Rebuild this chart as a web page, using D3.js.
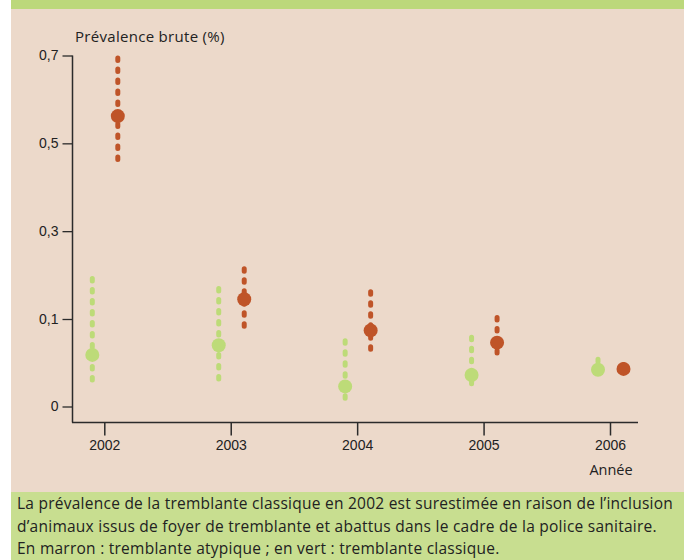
<!DOCTYPE html>
<html lang="fr">
<head>
<meta charset="utf-8">
<script src="https://cdn.jsdelivr.net/npm/d3@7"></script>
<style>
  html, body { margin: 0; padding: 0; background: #ffffff; }
  svg { display: block; font-family: "Open Sans", Lato, sans-serif; }
</style>
</head>
<body>
<svg id="chart" width="684" height="560"></svg>
<script>
// Prévalence brute (%) de la tremblante, par année, avec intervalle de confiance
const years = ["2002", "2003", "2004", "2005", "2006"];
const series = ["classique", "atypique"];

// tremblante classique (vert)
const classiqueVal  = [0.059, 0.070, 0.023, 0.036, 0.042];
const classiqueLow  = [0.023, 0.027, 0.004, 0.020, 0.030];
const classiqueHigh = [0.198, 0.175, 0.078, 0.082, 0.057];

// tremblante atypique (marron)
const atypiqueVal  = [0.562, 0.145, 0.087, 0.073, 0.043];
const atypiqueLow  = [0.448, 0.086, 0.060, 0.055, 0.033];
const atypiqueHigh = [0.700, 0.220, 0.168, 0.109, 0.051];

const yTicks = [0, 0.1, 0.3, 0.5, 0.7];
const yTickLabels = ["0", "0,1", "0,3", "0,5", "0,7"];

const caption = [
  "La prévalence de la tremblante classique en 2002 est surestimée en raison de l\u2019inclusion",
  "d\u2019animaux issus de foyer de tremblante et abattus dans le cadre de la police sanitaire.",
  "En marron : tremblante atypique ; en vert : tremblante classique."
];

const colors = { classique: "#bddb78", atypique: "#bf5428" };

const svg = d3.select("#chart");

// panneau : bandeau vert, fond beige, encadré de légende
svg.append("rect").attr("x", 11).attr("y", 0).attr("width", 673).attr("height", 9).attr("fill", "#bcd87b");
svg.append("rect").attr("x", 11).attr("y", 9).attr("width", 673).attr("height", 483).attr("fill", "#ecd9ca");
svg.append("rect").attr("x", 11).attr("y", 492).attr("width", 673).attr("height", 68).attr("fill", "#c8de90");

// échelles : l'axe vertical est dilaté entre 0 et 0,1
const x = d3.scalePoint().domain(years).range([104.3, 610]);
const dx = d3.scalePoint().domain(series).range([-12, 13.5]);
const y = d3.scaleLinear().domain([0, 0.1, 0.7]).range([406.5, 319, 55.5]);

const axisColor = "#2b2b2b";

// axe vertical
const yAxis = svg.append("g").attr("transform", "translate(72.5,0)")
  .call(d3.axisLeft(y).tickValues(yTicks).tickSizeInner(10).tickSizeOuter(0)
    .tickFormat((d, i) => yTickLabels[i]).tickPadding(4));
yAxis.select(".domain").remove();
yAxis.append("line").attr("x1", 0).attr("x2", 0).attr("y1", y(0.7)).attr("y2", 422.5)
  .attr("stroke", axisColor).attr("stroke-width", 1.5);
yAxis.selectAll(".tick line").attr("stroke", axisColor).attr("stroke-width", 1.3);
yAxis.selectAll(".tick text").attr("fill", "#222").attr("font-size", 14);

// axe horizontal
const xAxis = svg.append("g").attr("transform", "translate(0,422.5)")
  .call(d3.axisBottom(x).tickSizeInner(13).tickSizeOuter(0).tickPadding(5));
xAxis.select(".domain").remove();
xAxis.append("line").attr("x1", 72).attr("x2", 638).attr("y1", 0).attr("y2", 0)
  .attr("stroke", axisColor).attr("stroke-width", 1.5);
xAxis.selectAll(".tick line").attr("stroke", axisColor).attr("stroke-width", 1.5);
xAxis.selectAll(".tick text").attr("fill", "#222").attr("font-size", 14);

svg.append("text").attr("x", 611).attr("y", 475).attr("text-anchor", "middle")
  .attr("font-size", 14.5).attr("fill", "#222").text("Année");

svg.append("text").attr("x", 75).attr("y", 42)
  .attr("font-size", 15).attr("letter-spacing", 0.3).attr("fill", "#222").text("Prévalence brute (%)");

// points et intervalles
const rows = [];
years.forEach((yr, i) => {
  rows.push({ year: yr, s: "classique", v: classiqueVal[i], lo: classiqueLow[i], hi: classiqueHigh[i] });
  rows.push({ year: yr, s: "atypique", v: atypiqueVal[i], lo: atypiqueLow[i], hi: atypiqueHigh[i] });
});

const g = svg.append("g");
g.selectAll("line.ci").data(rows).join("line")
  .attr("class", "ci")
  .attr("x1", d => x(d.year) + dx(d.s)).attr("x2", d => x(d.year) + dx(d.s))
  .attr("y1", d => y(d.hi) + 2.5).attr("y2", d => y(d.lo) - 2.5)
  .attr("stroke", d => colors[d.s]).attr("stroke-width", 5)
  .attr("stroke-linecap", "round")
  .attr("stroke-dasharray", "2.5 8.5");

g.selectAll("circle.pt").data(rows).join("circle")
  .attr("class", "pt")
  .attr("cx", d => x(d.year) + dx(d.s)).attr("cy", d => y(d.v))
  .attr("r", 7).attr("fill", d => colors[d.s]);

// légende sous le graphique
svg.append("g").selectAll("text").data(caption).join("text")
  .attr("x", 17).attr("y", (d, i) => 509 + i * 22.5)
  .attr("font-size", 15.5).attr("letter-spacing", 0.25).attr("fill", "#222").text(d => d);
</script>
</body>
</html>
